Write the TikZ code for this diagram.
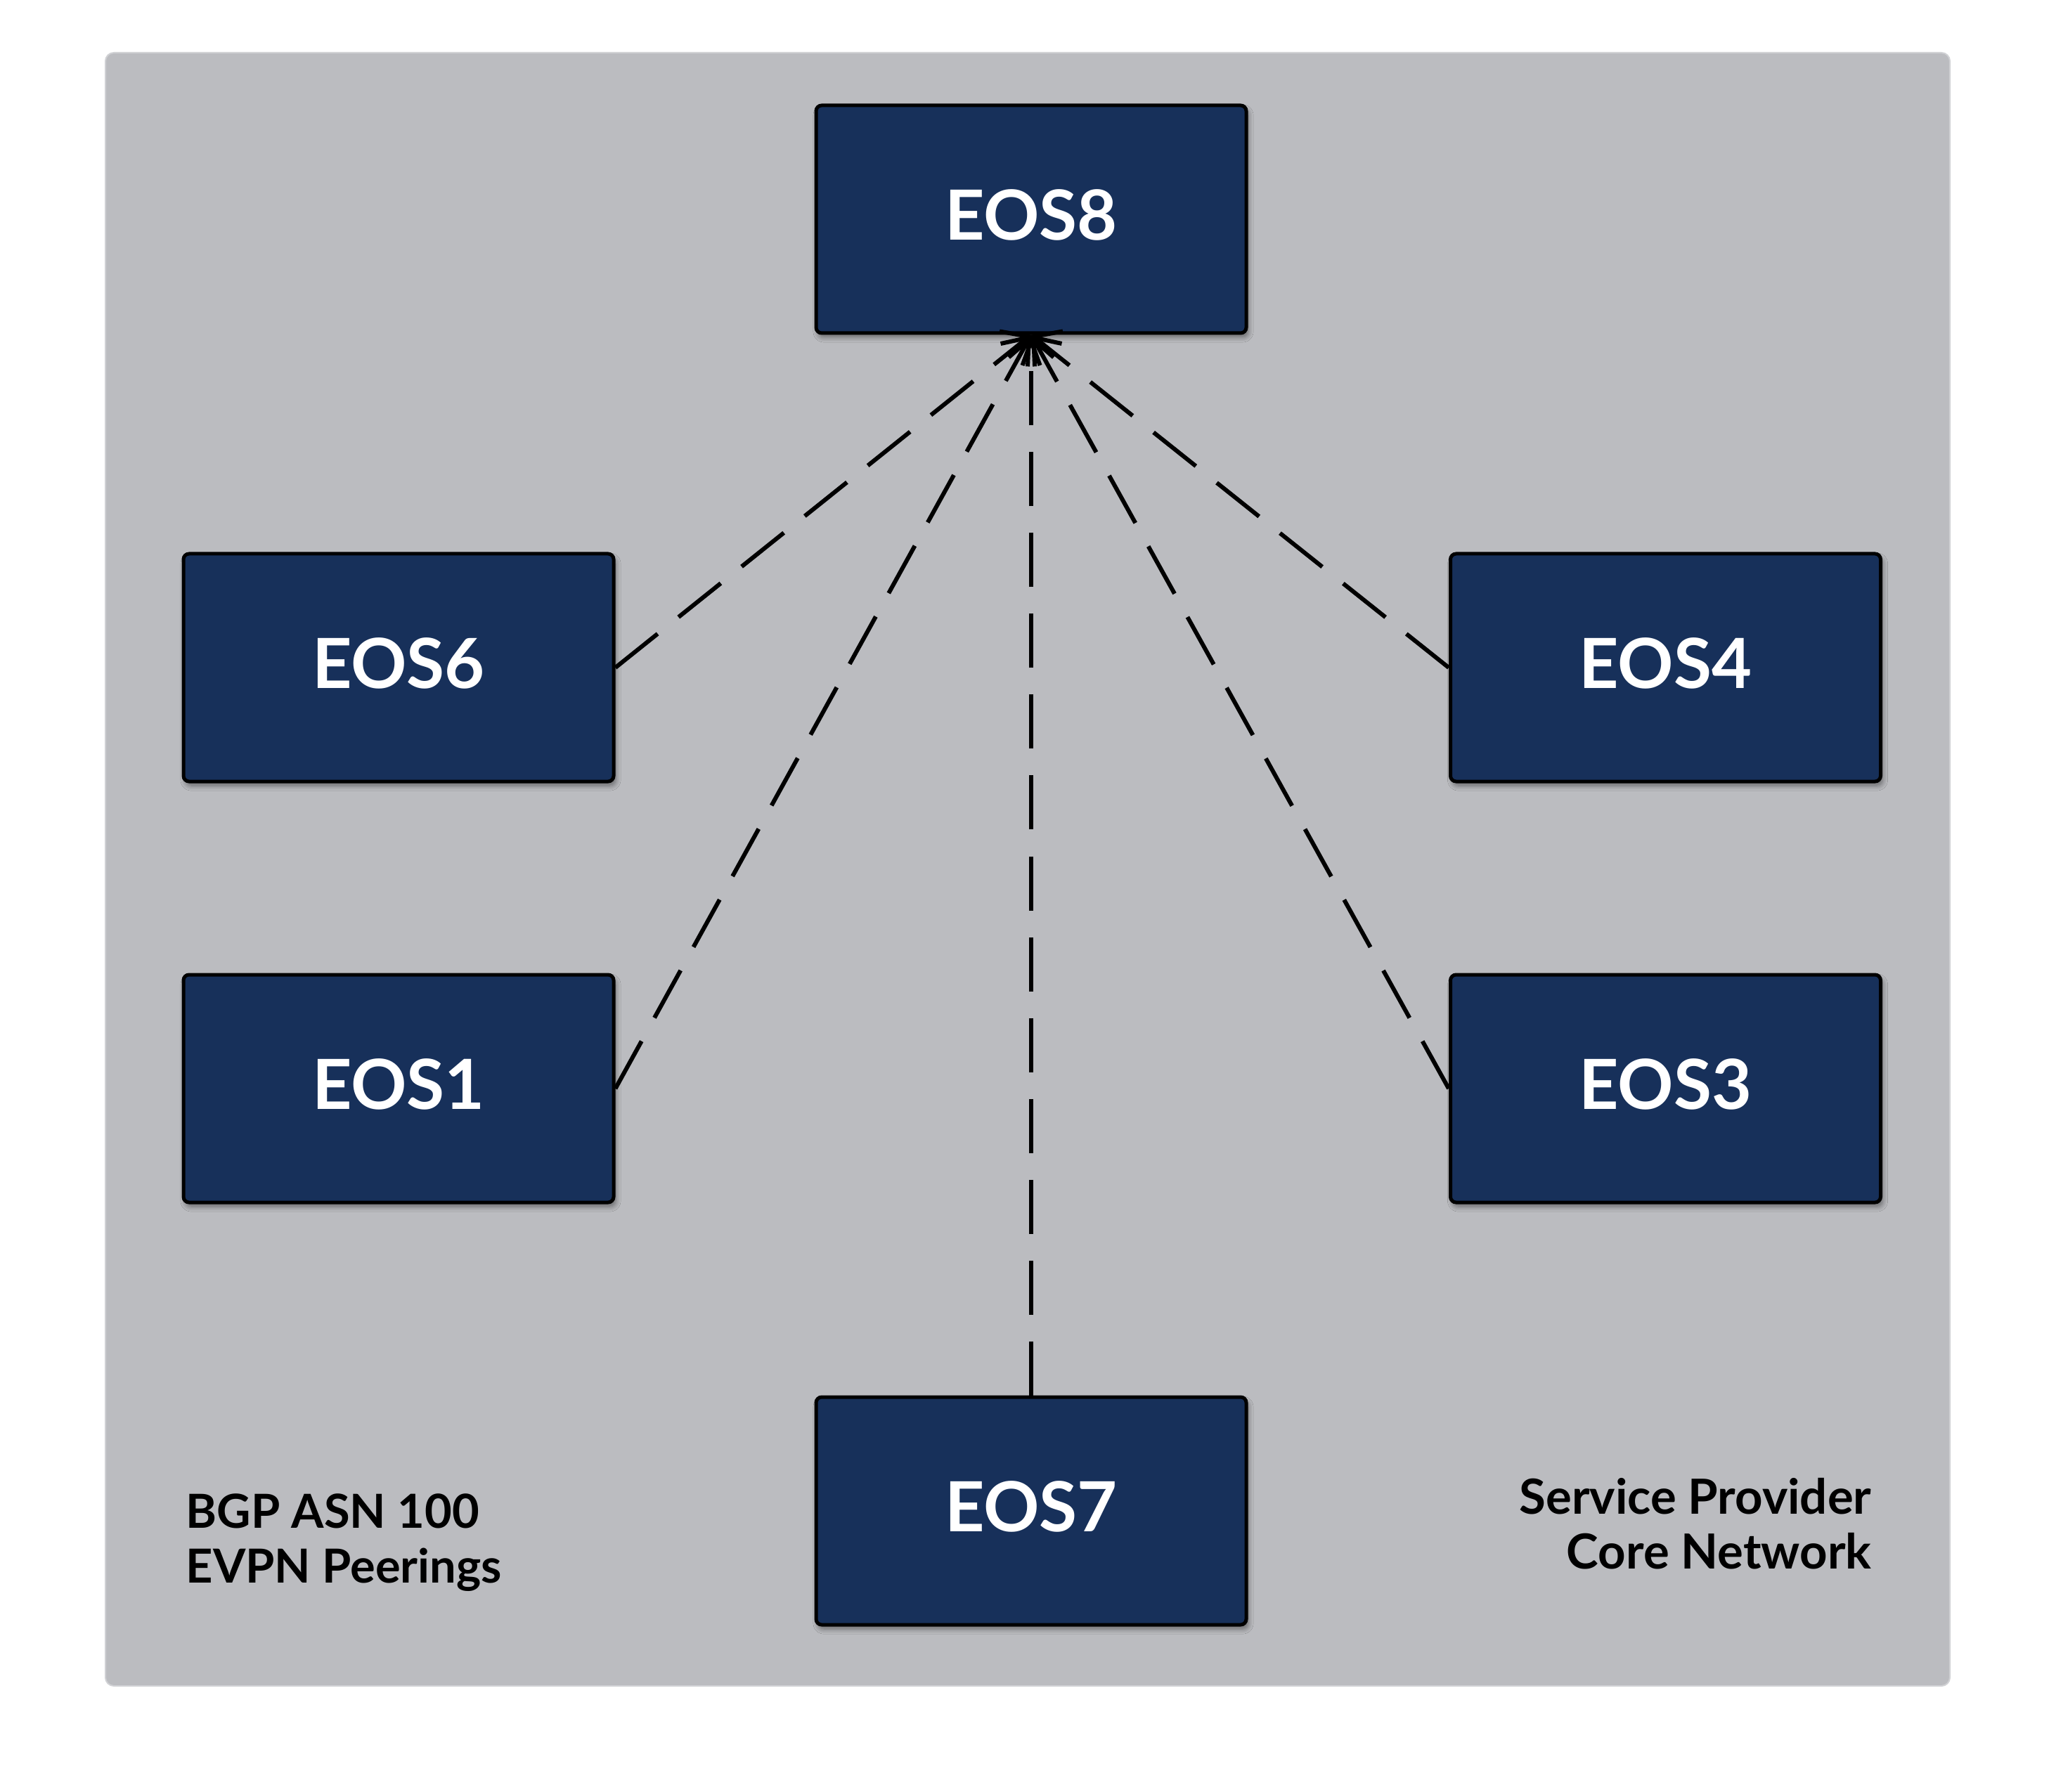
\documentclass[tikz,border=0pt]{standalone}
\usepackage{fontspec}
\setmainfont{Lato}
\usetikzlibrary{arrows.meta,shadows.blur}
\definecolor{bgpanel}{HTML}{BBBCC0}
\definecolor{bgedge}{HTML}{D0D1D4}
\definecolor{navy}{HTML}{17305A}
\begin{document}
\begin{tikzpicture}
\useasboundingbox (0,0) rectangle (29.25,-25.50);
\tikzset{
  router/.style={draw=black, line width=0.05cm, fill=navy, rounded corners=0.08cm,
    minimum width=6.12cm, minimum height=3.24cm, text=white, text depth=0.12cm,
    font=\fontsize{28}{33}\selectfont\bfseries,
    blur shadow={shadow xshift=0.03cm, shadow yshift=-0.06cm, shadow blur steps=8, shadow opacity=45}},
  peer/.style={line width=0.06cm, dash pattern=on 0.77cm off 0.38cm,
    -{Straight Barb[length=0.28cm, width=0.64cm, line width=0.06cm]}},
  caption/.style={font=\fontsize{19}{22}\selectfont\bfseries, text=black, inner sep=0pt}
}
\filldraw[fill=bgpanel, draw=bgedge, line width=0.02cm, rounded corners=0.12cm]
  (1.50,-0.75) rectangle (27.74,-23.99);

\node[router] (eos8) at (14.67,-3.12) {EOS8};
\node[router] (eos6) at (5.67,-9.50) {EOS6};
\node[router] (eos4) at (23.695,-9.50) {EOS4};
\node[router] (eos1) at (5.67,-15.49) {EOS1};
\node[router] (eos3) at (23.695,-15.49) {EOS3};
\node[router] (eos7) at (14.67,-21.50) {EOS7};

\draw[peer] (eos6.east) -- (eos8.south);
\draw[peer] (eos1.east) -- (eos8.south);
\draw[peer] (eos7.north) -- (eos8.south);
\draw[peer] (eos3.west) -- (eos8.south);
\draw[peer] (eos4.west) -- (eos8.south);

\node[caption, anchor=base west, align=left] (asn) at (2.64,-22.52)
  {BGP ASN 100\\EVPN Peerings};
\node[caption, font=\fontsize{19.6}{22}\selectfont\bfseries, anchor=base east, align=right] (spc) at (26.63,-22.32)
  {Service Provider\\Core Network};
\end{tikzpicture}
\end{document}
